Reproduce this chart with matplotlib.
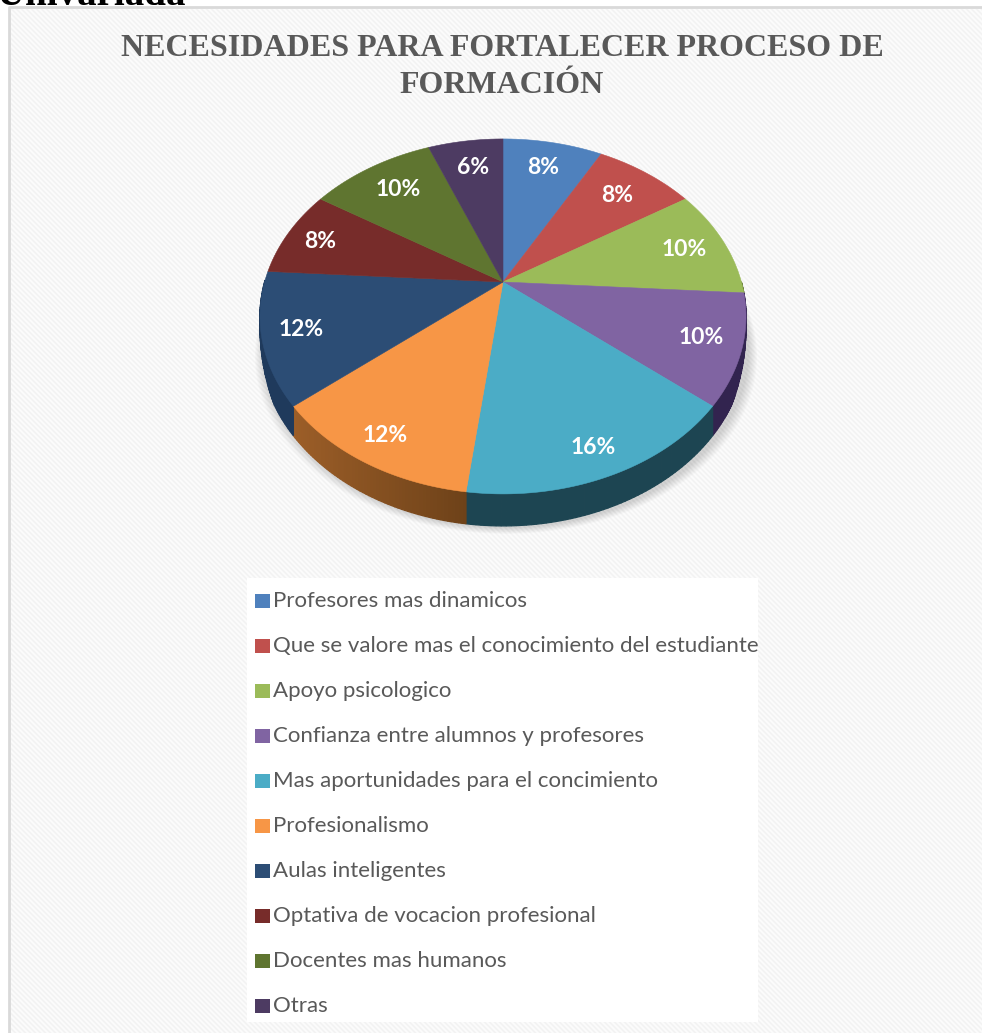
import numpy as np
import matplotlib
matplotlib.use('Agg')
import matplotlib.pyplot as plt
from matplotlib.patches import Polygon, Rectangle

labels = ['Profesores mas dinamicos', 'Que se valore mas el conocimiento del estudiante',
          'Apoyo psicologico', 'Confianza entre alumnos y profesores',
          'Mas aportunidades para el concimiento', 'Profesionalismo', 'Aulas inteligentes',
          'Optativa de vocacion profesional', 'Docentes mas humanos', 'Otras']
values = [8, 8, 10, 10, 16, 12, 12, 8, 10, 6]
colors = ['#4F81BD', '#C0504D', '#9BBB59', '#8064A2', '#4BACC6',
          '#F79646', '#2C4D75', '#772C2A', '#5F7530', '#4D3B62']
wall_left = ['#2f4d71', '#732f2e', '#5d7035', '#32244f', '#1d4552',
             '#9c5e28', '#1f3a5c', '#4a1b1a', '#3c4a1e', '#30253e']
wall_right = ['#2f4d71', '#732f2e', '#5d7035', '#32244f', '#1d4552',
              '#6e4219', '#1f3a5c', '#4a1b1a', '#3c4a1e', '#30253e']
title = 'NECESIDADES PARA FORTALECER PROCESO DE\nFORMACIÓN'
heading = 'Univariada'

# layout, in pixels of the reference
W, H = 982, 1033
cx, cy = 503, 282
k, a, b = 0.194, 170.8, 238.4
label_xy = [(543, 168), (617, 196), (684, 250), (701, 338), (593, 448),
            (385, 435), (301, 330), (320, 241), (398, 190), (473, 167)]
legend_y = [601 + 45 * i for i in range(10)]


def project(theta, r=1.0):
    # tilted disc seen in perspective, theta clockwise from the top
    u = r * np.sin(theta)
    v = r * np.cos(theta)
    d = 1 + k * v
    return cx + b * u / d, cy - a * v / d, d


fig = plt.figure(figsize=(W / 100, H / 100), dpi=100)
ax = fig.add_axes([0, 0, 1, 1])
ax.set_xlim(0, W)
ax.set_ylim(H, 0)
ax.axis('off')

# striped page background
yy, xx = np.mgrid[0:H, 0:W]
stripes = 0.5 + 0.5 * np.cos(2 * np.pi * (xx - yy) / 5.0)
bg = 243 + 9 * stripes
ax.imshow(bg, cmap='gray', vmin=0, vmax=255, extent=(0, W, H, 0), zorder=0, aspect='auto',
          interpolation='nearest')
ax.add_patch(Rectangle((0, 0), 9, H, color='white', zorder=1))
ax.add_patch(Rectangle((0, 0), W, 7, color='white', zorder=1))
ax.plot([9.5, 9.5, W], [H, 7, 7], color='#d9d9d9', lw=2, zorder=2)
ax.text(-3, 5, heading, family='Liberation Serif', weight='bold', fontsize=28, color='black',
        va='baseline', ha='left', zorder=3)

cum = np.cumsum([0] + values) / sum(values) * 2 * np.pi

# soft shadow under the pie
t = np.linspace(0, 2 * np.pi, 240)
px, py, pd = project(t)
for g in np.linspace(10, 0, 10):
    ax.add_patch(Polygon(np.c_[cx + 3 + (px - cx) * (1 + g / 300), py + 34 + g * 0.6],
                         closed=True, fc='#000000', ec='none', alpha=0.016, zorder=3))

# side wall, darker, fades out towards the sides of the disc
for i in range(len(values)):
    tt = np.linspace(cum[i], cum[i + 1], 60)
    x, y, d = project(tt)
    h = 25.8 / d * np.clip(-np.cos(tt) / 0.5, 0, 1)
    c0 = np.array(matplotlib.colors.to_rgb(wall_left[i]))
    c1 = np.array(matplotlib.colors.to_rgb(wall_right[i]))
    for j in range(len(tt) - 1):
        if h[j] == 0 and h[j + 1] == 0:
            continue
        f = (x[j] - x.min()) / max(x.max() - x.min(), 1)
        col = c0 * (1 - f) + c1 * f
        ax.add_patch(Polygon([(x[j], y[j]), (x[j + 1], y[j + 1]),
                              (x[j + 1], y[j + 1] + h[j + 1]), (x[j], y[j] + h[j])],
                             closed=True, fc=col, ec=col, lw=0.9, zorder=4))

# top face
for i in range(len(values)):
    tt = np.linspace(cum[i], cum[i + 1], 60)
    x, y, _ = project(tt)
    ax.add_patch(Polygon(np.r_[[[cx, cy]], np.c_[x, y]], closed=True, fc=colors[i], ec=colors[i],
                         lw=0.4, zorder=5))

for v, (lx, ly) in zip(values, label_xy):
    ax.text(lx, ly, '%d%%' % v, family='Lato', weight='bold', fontsize=16.5, color='white',
            ha='center', va='center', zorder=6)

ax.text(502, 67, title, family='Liberation Serif', weight='bold', fontsize=23, color='#595959',
        ha='center', va='center', linespacing=1.36, zorder=6)

# legend panel
ax.add_patch(Rectangle((247, 578), 511, 444, fc='white', ec='none', zorder=6))
for name, col, ly in zip(labels, colors, legend_y):
    ax.add_patch(Rectangle((255, ly - 7), 15, 14, fc=col, ec='none', zorder=7))
    ax.text(273, ly, name, family='Lato', fontsize=16.05, color='#595959', ha='left',
            va='center', zorder=7)

fig.savefig('out.png', dpi=100)
